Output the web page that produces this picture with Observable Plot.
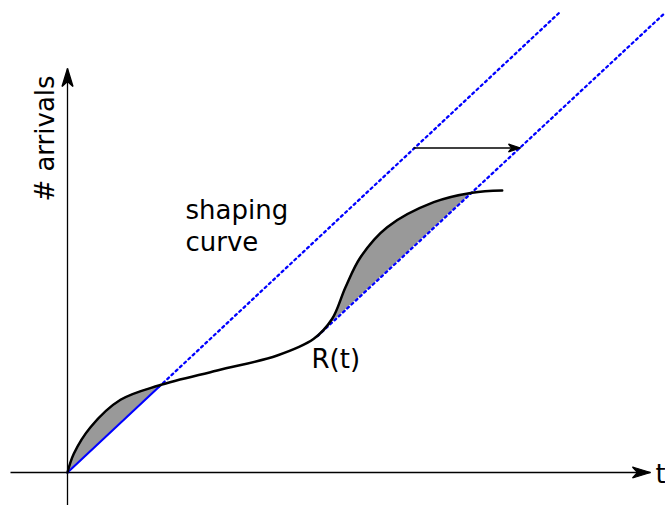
<!DOCTYPE html>
<html>
<head>
<meta charset="utf-8">
<script src="https://cdn.jsdelivr.net/npm/d3@7"></script>
<script src="https://cdn.jsdelivr.net/npm/@observablehq/plot@0.6"></script>
<style>
  body { margin: 0; background: #fff; }
  #chart svg { display: block; }
</style>
</head>
<body>
<div id="chart"></div>
<script>
// Cumulative arrival curve R(t)
const t        = [0, 0.63, 2.3, 5.3, 9.13, 14.97, 20.97, 24.63, 26.47, 27.8, 29.3, 31.97, 36.63, 40.47, 43.47];
const arrivals = [0, 1.87, 4.53, 7.27, 8.7, 10.2, 11.7, 13.37, 15.37, 18.53, 21.53, 24.53, 27.03, 27.98, 28.2];

// Shaping curve from the origin (solid up to its first contact, dotted beyond)
const shapeT0 = [0, 9.13, 49.2];
const shapeA0 = [0, 8.55, 46.0];
// Same shaping curve shifted right in time
const shapeT1 = [25.0, 59.7];
const shapeA1 = [13.64, 45.92];

// Intervals where R(t) exceeds the shaping curve
const excess0 = [0, 9.13];
const excess1 = [24.63, 40.47];

// Horizontal shift between the two shaping curves
const shiftFrom = 34.6, shiftTo = 45.3, shiftLevel = 32.45;

// Axis extents
const tAxis = [-5.7, 58.3];
const aAxis = [-3.3, 40.4];

const curvePts = t.map((x, i) => ({t: x, a: arrivals[i]}));
const lineAt = (T, A, x) => {
  const i = Math.min(T.length - 1, Math.max(1, d3.bisectLeft(T, x)));
  const k = (x - T[i - 1]) / (T[i] - T[i - 1]);
  return A[i - 1] + k * (A[i] - A[i - 1]);
};
const region = (iv, T, A) =>
  curvePts.filter(d => d.t >= iv[0] - 1e-9 && d.t <= iv[1] + 1e-9)
          .map(d => ({t: d.t, hi: d.a, lo: Math.min(d.a, lineAt(T, A, d.t))}));

const fill0 = region(excess0, shapeT0, shapeA0);
const fill1 = region(excess1, shapeT1, shapeA1);

const solid0 = shapeT0.slice(0, 2).map((x, i) => ({t: x, a: shapeA0[i]}));
const dotted0 = shapeT0.slice(1).map((x, i) => ({t: x, a: shapeA0[i + 1]}));
const dotted1 = shapeT1.map((x, i) => ({t: x, a: shapeA1[i]}));

// Filled "stealth" arrow head
function stealth(len, wid) {
  return (color) => {
    const m = d3.create("svg:marker")
      .attr("viewBox", `${-len} ${-wid / 2} ${len} ${wid}`)
      .attr("markerUnits", "userSpaceOnUse")
      .attr("markerWidth", len)
      .attr("markerHeight", wid)
      .attr("refX", 0)
      .attr("refY", 0)
      .attr("orient", "auto")
      .attr("overflow", "visible");
    m.append("path")
      .attr("d", `M0,0L${-len},${-wid / 2}L${-len * 0.72},0L${-len},${wid / 2}Z`)
      .attr("fill", color);
    return m.node();
  };
}

const font = "DejaVu Sans";
const dots = {stroke: "#0000ff", strokeWidth: 2.3, strokeDasharray: "2.2,3.6"};

const chart = Plot.plot({
  width: 665,
  height: 505,
  margin: 0,
  style: {background: "#fff", fontFamily: font},
  x: {domain: [-6.7, 59.8], axis: null},
  y: {domain: [-3.3, 47.2], axis: null},
  marks: [
    // shaded excess areas
    Plot.areaY(fill0, {x: "t", y1: "lo", y2: "hi", fill: "#999", curve: "catmull-rom"}),
    Plot.areaY(fill1, {x: "t", y1: "lo", y2: "hi", fill: "#999", curve: "catmull-rom"}),
    // axes
    Plot.link([0], {x1: tAxis[0], y1: 0, x2: tAxis[1], y2: 0, stroke: "#000", strokeWidth: 1.3, markerEnd: stealth(18, 11)}),
    Plot.link([0], {x1: 0, y1: aAxis[0], x2: 0, y2: aAxis[1], stroke: "#000", strokeWidth: 1.3, markerEnd: stealth(18, 11)}),
    // shaping curves
    Plot.line(solid0, {x: "t", y: "a", stroke: "#0000ff", strokeWidth: 2.2}),
    Plot.line(dotted0, {x: "t", y: "a", ...dots}),
    Plot.line(dotted1, {x: "t", y: "a", ...dots}),
    // arrival curve
    Plot.line(curvePts, {x: "t", y: "a", stroke: "#000", strokeWidth: 2.5, curve: "catmull-rom"}),
    // shift arrow
    Plot.link([0], {x1: shiftFrom, y1: shiftLevel, x2: shiftTo, y2: shiftLevel, stroke: "#000", strokeWidth: 1.3, markerEnd: stealth(12, 8)}),
    // labels
    Plot.text(["shaping\ncurve"], {x: 11.8, y: 22.2, textAnchor: "start", lineAnchor: "bottom", lineHeight: 1.23, fontSize: 26, fill: "#000"}),
    Plot.text(["R(t)"], {x: 24.4, y: 10.5, textAnchor: "start", lineAnchor: "bottom", fontSize: 26, fill: "#000"}),
    Plot.text(["t"], {x: 58.8, y: -1.0, textAnchor: "start", lineAnchor: "bottom", fontSize: 26, fill: "#000"}),
    Plot.text(["# arrivals"], {x: -1.4, y: 33.4, rotate: -90, textAnchor: "middle", lineAnchor: "bottom", fontSize: 26, fill: "#000"})
  ]
});

document.getElementById("chart").appendChild(chart);
</script>
</body>
</html>
